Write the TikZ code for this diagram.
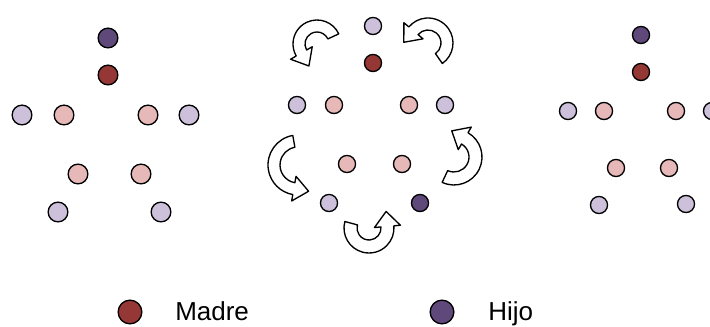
\documentclass[tikz,border=0pt]{standalone}
\usepackage{fontspec}
\setmainfont{Liberation Sans}
\usepackage{tikz}
\usetikzlibrary{calc}

\definecolor{cHijo}{HTML}{5F497A}
\definecolor{cMadre}{HTML}{953735}
\definecolor{cLila}{HTML}{CCC0DA}
\definecolor{cRosa}{HTML}{E6B9B8}

\tikzset{
  dot/.style={circle, draw=black, line width=1pt, inner sep=0pt, minimum size=12.8pt},
  bigdot/.style={dot, minimum size=14.8pt},
  keydot/.style={dot, minimum size=17.8pt},
  hijo/.style={fill=cHijo},
  madre/.style={fill=cMadre},
  lila/.style={fill=cLila},
  rosa/.style={fill=cRosa},
  curlshape/.style={draw=black, fill=white, line width=1pt, line join=round},
  keytext/.style={anchor=base west, inner sep=0pt, font=\fontsize{19.5}{23}\selectfont}
}

% curved block arrow: centre x, centre y, outer r, inner r, start angle, end angle
\newcommand{\curlarrow}[6]{%
  \draw[curlshape] ($(#1,#2)+({#5}:{#3})$) arc[start angle={#5}, end angle={#6}, radius={#3}]
    -- ($(#1,#2)+({#6}:{#3+6.5})$)
    -- ($(#1,#2)+({#6}:{(#3+#4)/2})+({#6-90}:15)$)
    -- ($(#1,#2)+({#6}:{#4-6.5})$)
    -- ($(#1,#2)+({#6}:{#4})$) arc[start angle={#6}, end angle={#5}, radius={#4}]
    -- cycle;}

\begin{document}
\begin{tikzpicture}[x=0.75pt,y=0.75pt,yscale=-1,xscale=1]
\path[use as bounding box] (0,0) rectangle (710,327);

%Group: left
\node (lh) [bigdot,hijo] at (108,38) {};
\node (lm) [bigdot,madre] at (108,75) {};
\node (ll1) [bigdot,lila] at (22,115) {};
\node (lr1) [bigdot,rosa] at (64,115) {};
\node (lr2) [bigdot,rosa] at (148,115) {};
\node (ll2) [bigdot,lila] at (189,115) {};
\node (lr3) [bigdot,rosa] at (78,174) {};
\node (lr4) [bigdot,rosa] at (141,174) {};
\node (ll3) [bigdot,lila] at (58,212) {};
\node (ll4) [bigdot,lila] at (161,212) {};

%Group: middle
\node (ml0) [dot,lila] at (373,26) {};
\node (mm) [dot,madre] at (373,63) {};
\node (ml1) [dot,lila] at (297,105) {};
\node (mr1) [dot,rosa] at (334,105) {};
\node (mr2) [dot,rosa] at (409,105) {};
\node (ml2) [dot,lila] at (445,105) {};
\node (mr3) [dot,rosa] at (347,164) {};
\node (mr4) [dot,rosa] at (402,164) {};
\node (ml3) [dot,lila] at (329,203) {};
\node (mh) [dot,hijo] at (420,203) {};

%Shape: curved arrows round the middle group
\curlarrow{317}{44}{24}{12}{-25}{-210}
\curlarrow{428}{43}{25}{13}{55}{-140}
\curlarrow{298}{165}{30}{18}{260}{100}
\curlarrow{454}{157}{28}{15}{115}{-60}
\curlarrow{369}{228}{25}{12}{195}{-5}

%Group: right
\node (rh) [dot,hijo] at (641,35) {};
\node (rm) [dot,madre] at (641,72) {};
\node (rl1) [dot,lila] at (568,111) {};
\node (rr1) [dot,rosa] at (604,111) {};
\node (rr2) [dot,rosa] at (676,111) {};
\node (rl2) [dot,lila] at (712,111) {};
\node (rr3) [dot,rosa] at (616,168) {};
\node (rr4) [dot,rosa] at (669,168) {};
\node (rl3) [dot,lila] at (599,205) {};
\node (rl4) [dot,lila] at (686,204) {};

% Legend
\node (kmadre) [keydot,madre] at (130,312) {};
\node (tmadre) [keytext] at (175,321) {Madre};
\node (khijo) [keydot,hijo] at (442,312) {};
\node (thijo) [keytext] at (488,321) {Hijo};
\end{tikzpicture}
\end{document}
